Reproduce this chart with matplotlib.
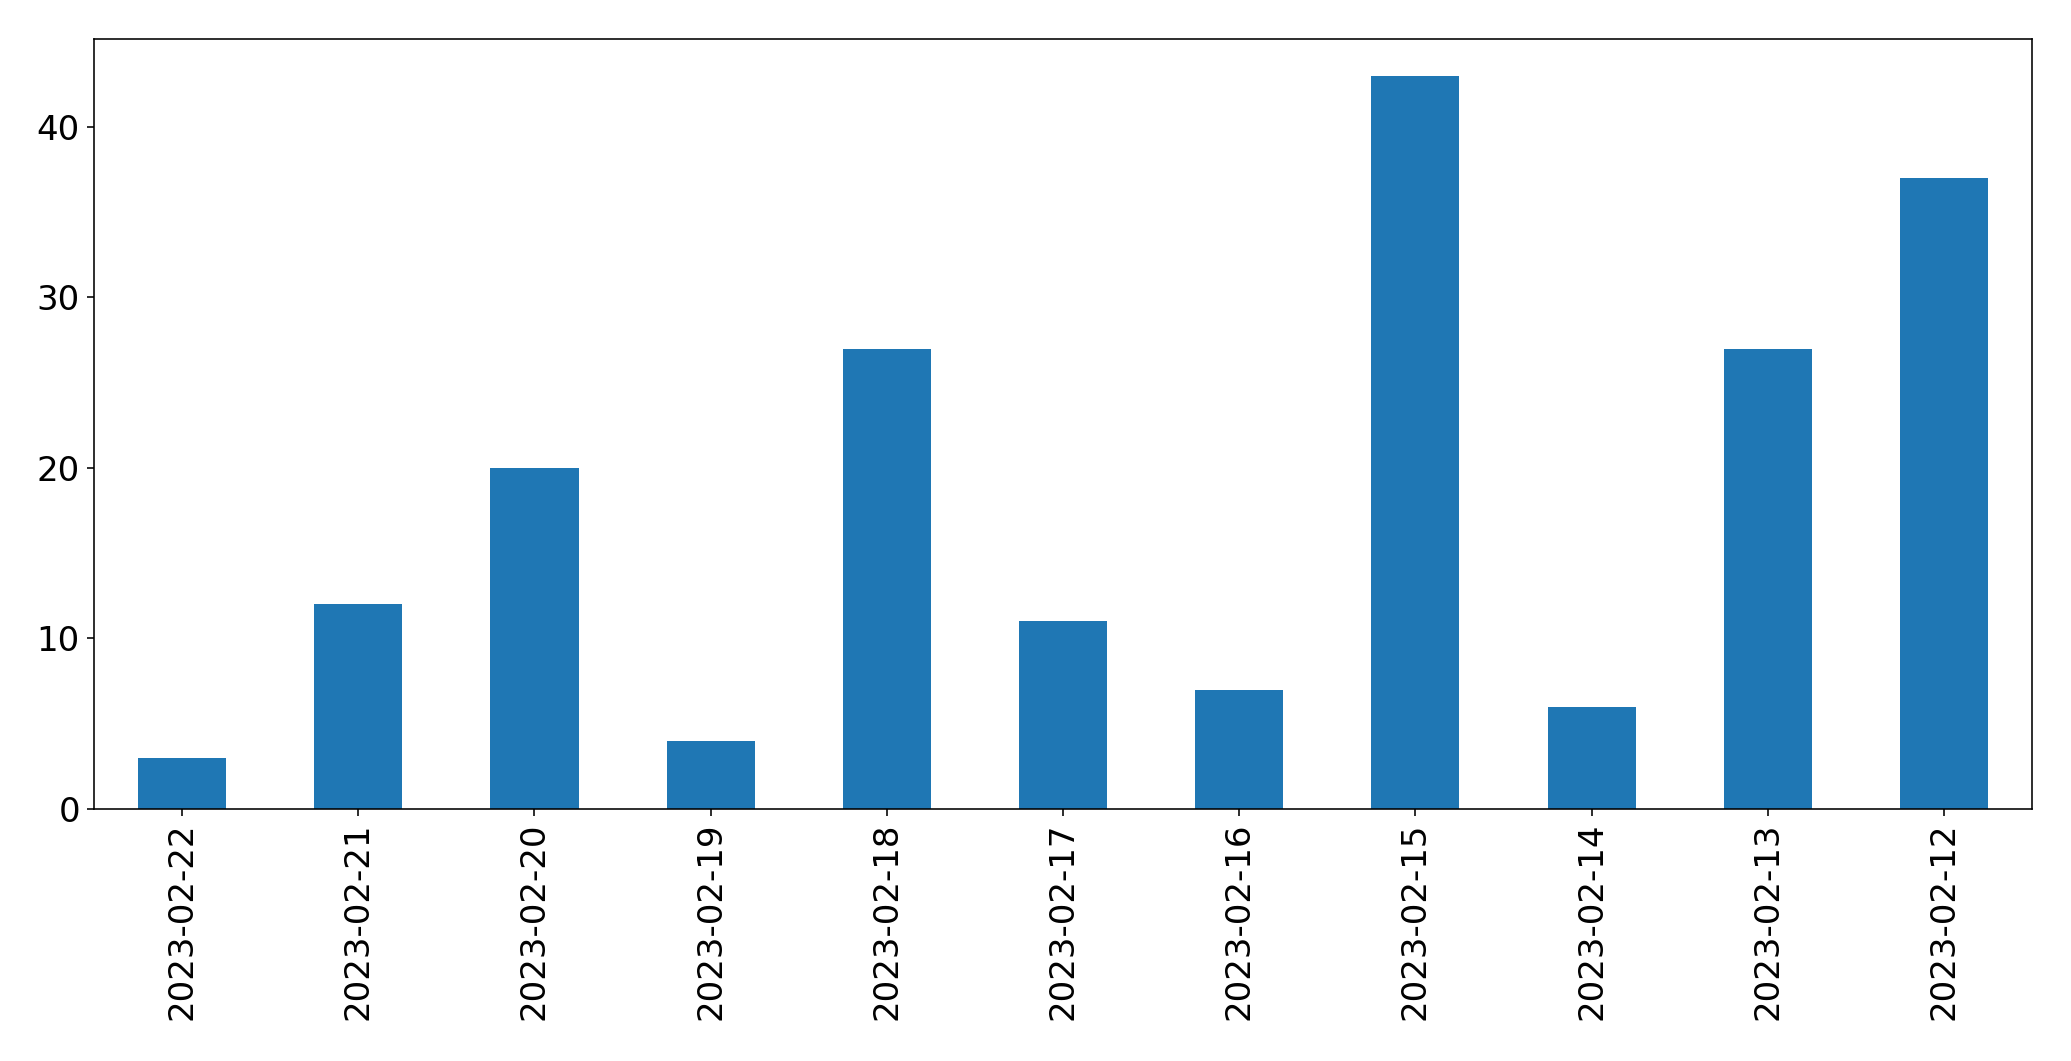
import matplotlib

matplotlib.use("Agg")
import matplotlib.pyplot as plt
import pandas as pd

dates = [
    "2023-02-22",
    "2023-02-21",
    "2023-02-20",
    "2023-02-19",
    "2023-02-18",
    "2023-02-17",
    "2023-02-16",
    "2023-02-15",
    "2023-02-14",
    "2023-02-13",
    "2023-02-12",
]
counts = [3, 12, 20, 4, 27, 11, 7, 43, 6, 27, 37]

series = pd.Series(counts, index=dates)

dpi = 144
fig, ax = plt.subplots(figsize=(2071 / dpi, 1061 / dpi), dpi=dpi)
series.plot.bar(ax=ax, color="#1f77b4", fontsize=17)

fig.subplots_adjust(
    left=94 / 2071,
    right=2032 / 2071,
    top=1 - 39 / 1061,
    bottom=1 - 809 / 1061,
)
fig.savefig("out.png", dpi=dpi)
